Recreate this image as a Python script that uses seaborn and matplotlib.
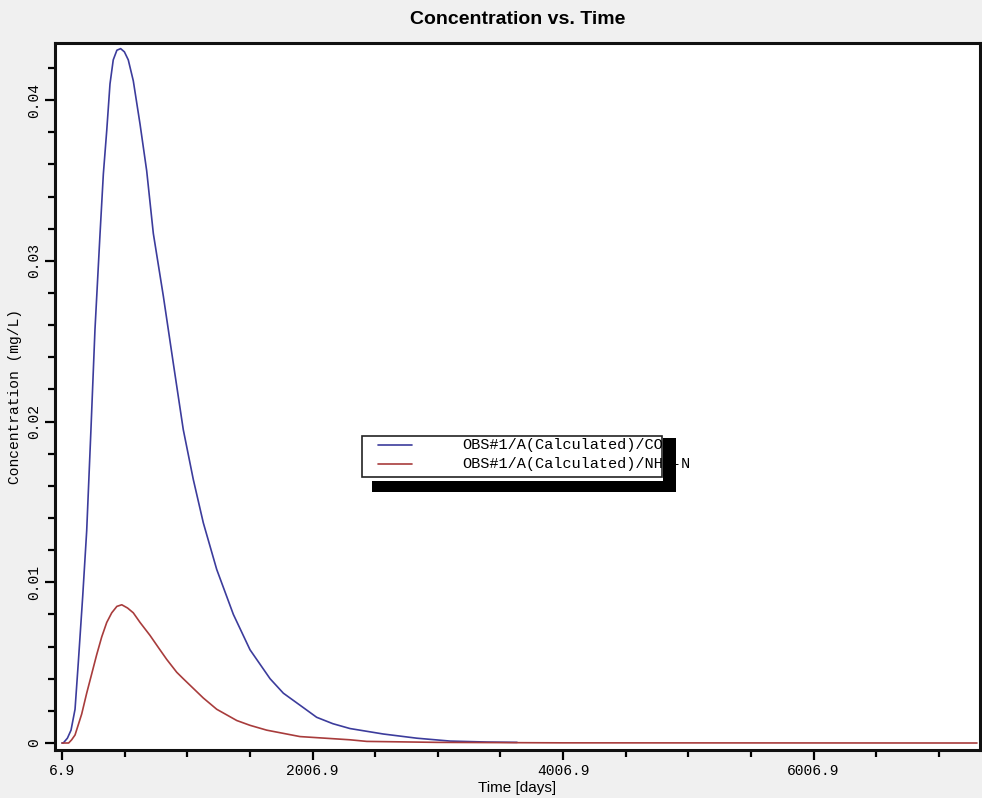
import numpy as np
import pandas as pd
import matplotlib
matplotlib.use("Agg")
import matplotlib.pyplot as plt
import matplotlib.ticker as mtick
from matplotlib.patches import Rectangle
from matplotlib.lines import Line2D
import seaborn as sns

# values
co_time = [6.9, 17, 50, 79, 111, 137, 172, 204, 238, 270, 310, 337, 364, 390, 416,
           445, 475, 505, 536, 576, 630, 683, 736, 816, 896, 975, 1055, 1135, 1242,
           1375, 1508, 1668, 1774, 1934, 2040, 2170, 2306, 2572, 2839, 3105, 3400, 3640]
co_conc = [0.0, 0.0, 0.0003, 0.0008, 0.0021, 0.0050, 0.0091, 0.0132, 0.0195, 0.0257,
           0.0316, 0.0354, 0.0381, 0.0410, 0.0425, 0.0431, 0.0432, 0.0430, 0.0425,
           0.0412, 0.0385, 0.0356, 0.0317, 0.0278, 0.0236, 0.0195, 0.0164, 0.0137,
           0.0108, 0.0080, 0.0058, 0.0040, 0.0031, 0.0022, 0.0016, 0.0012, 0.0009,
           0.00056, 0.0003, 0.00012, 0.00006, 0.00004]

nh_time = [6.9, 60, 84, 111, 164, 204, 244, 284, 324, 364, 404, 445, 484, 530, 576,
           630, 709, 780, 843, 923, 975, 1135, 1242, 1402, 1508, 1641, 1774, 1907,
           2306, 2440, 3000, 4000, 7312]
nh_conc = [0.0, 0.0, 0.0002, 0.0005, 0.0018, 0.0031, 0.0043, 0.0055, 0.0066, 0.0075,
           0.0081, 0.0085, 0.0086, 0.0084, 0.0081, 0.0075, 0.0067, 0.0059, 0.0052,
           0.0044, 0.0040, 0.0028, 0.0021, 0.0014, 0.0011, 0.0008, 0.0006, 0.0004,
           0.0002, 0.0001, 0.00004, 0.00001, 0.0]

series_names = ["OBS#1/A(Calculated)/CO", "OBS#1/A(Calculated)/NH4-N"]
series_colors = ["#3c3c9c", "#a83c3c"]
x_ticks = [6.9, 2006.9, 4006.9, 6006.9]
y_ticks = [0, 0.01, 0.02, 0.03, 0.04]

df = pd.concat([
    pd.DataFrame({"time": co_time, "conc": co_conc, "series": series_names[0]}),
    pd.DataFrame({"time": nh_time, "conc": nh_conc, "series": series_names[1]}),
])

sns.set_style("ticks")
plt.rcParams["font.family"] = ["Liberation Mono", "DejaVu Sans Mono"]
plt.rcParams["text.color"] = "black"
plt.rcParams["axes.labelcolor"] = "black"
plt.rcParams["xtick.color"] = "black"
plt.rcParams["ytick.color"] = "black"

fig = plt.figure(figsize=(9.82, 7.98), dpi=100, facecolor="#f0f0f0")
ax = fig.add_axes([55 / 982, 1 - 750 / 798, 925 / 982, 707 / 798])
ax.set_facecolor("white")

sns.lineplot(data=df, x="time", y="conc", hue="series", palette=series_colors,
             estimator=None, sort=False, linewidth=1.2, legend=False, ax=ax)

ax.set_xlim(-49, 7336)
ax.set_ylim(-0.000435, 0.04355)
ax.set_xticks(x_ticks)
ax.set_xticklabels([f"{v:.1f}" for v in x_ticks], fontsize=10.5)
ax.xaxis.set_minor_locator(mtick.FixedLocator(np.arange(6.9, 7336, 500)))
ax.set_yticks(y_ticks)
ax.set_yticklabels(["0", "0.01", "0.02", "0.03", "0.04"], fontsize=10.5,
                   rotation=90, va="center")
ax.yaxis.set_minor_locator(mtick.MultipleLocator(0.002))

ax.tick_params(which="major", length=7, width=1.6, color="black", pad=3)
ax.tick_params(which="minor", length=5, width=1.6, color="black")
for s in ax.spines.values():
    s.set_linewidth(2.2)
    s.set_color("#111111")

ax.set_xlabel("Time [days]", family="Liberation Sans", fontsize=11, labelpad=2)
ax.set_ylabel("Concentration (mg/L)", fontsize=10.5, labelpad=4)
ax.set_title("Concentration vs. Time", family="Liberation Sans", fontsize=14,
             fontweight="bold", pad=14)

# legend box drawn by hand, text spills under a black drop shadow
def px(x, y):
    return x / 982, 1 - y / 798

tf = fig.transFigure
x0, y0 = px(362, 477)
x1, y1 = px(662, 436)
fig.add_artist(Rectangle((x0, y0), x1 - x0, y1 - y0, transform=tf,
                         facecolor="white", edgecolor="#222222", linewidth=1.2, zorder=5))
for i, (name, col) in enumerate(zip(series_names, series_colors)):
    yy = 445 + i * 19
    la, lb = px(378, yy), px(412, yy)
    fig.add_artist(Line2D([la[0], lb[0]], [la[1], lb[1]], transform=tf,
                          color=col, linewidth=1.2, zorder=6))
    tx, ty = px(462, yy)
    fig.text(tx, ty, name, fontsize=11, va="center", ha="left", zorder=6)

sx0, sy0 = px(372, 492)
sx1, sy1 = px(676, 481)
fig.add_artist(Rectangle((sx0, sy0), sx1 - sx0, sy1 - sy0, transform=tf,
                         facecolor="black", edgecolor="none", zorder=7))
rx0, ry0 = px(663, 492)
rx1, ry1 = px(676, 438)
fig.add_artist(Rectangle((rx0, ry0), rx1 - rx0, ry1 - ry0, transform=tf,
                         facecolor="black", edgecolor="none", zorder=7))

fig.savefig("out.png", dpi=100, facecolor=fig.get_facecolor())
